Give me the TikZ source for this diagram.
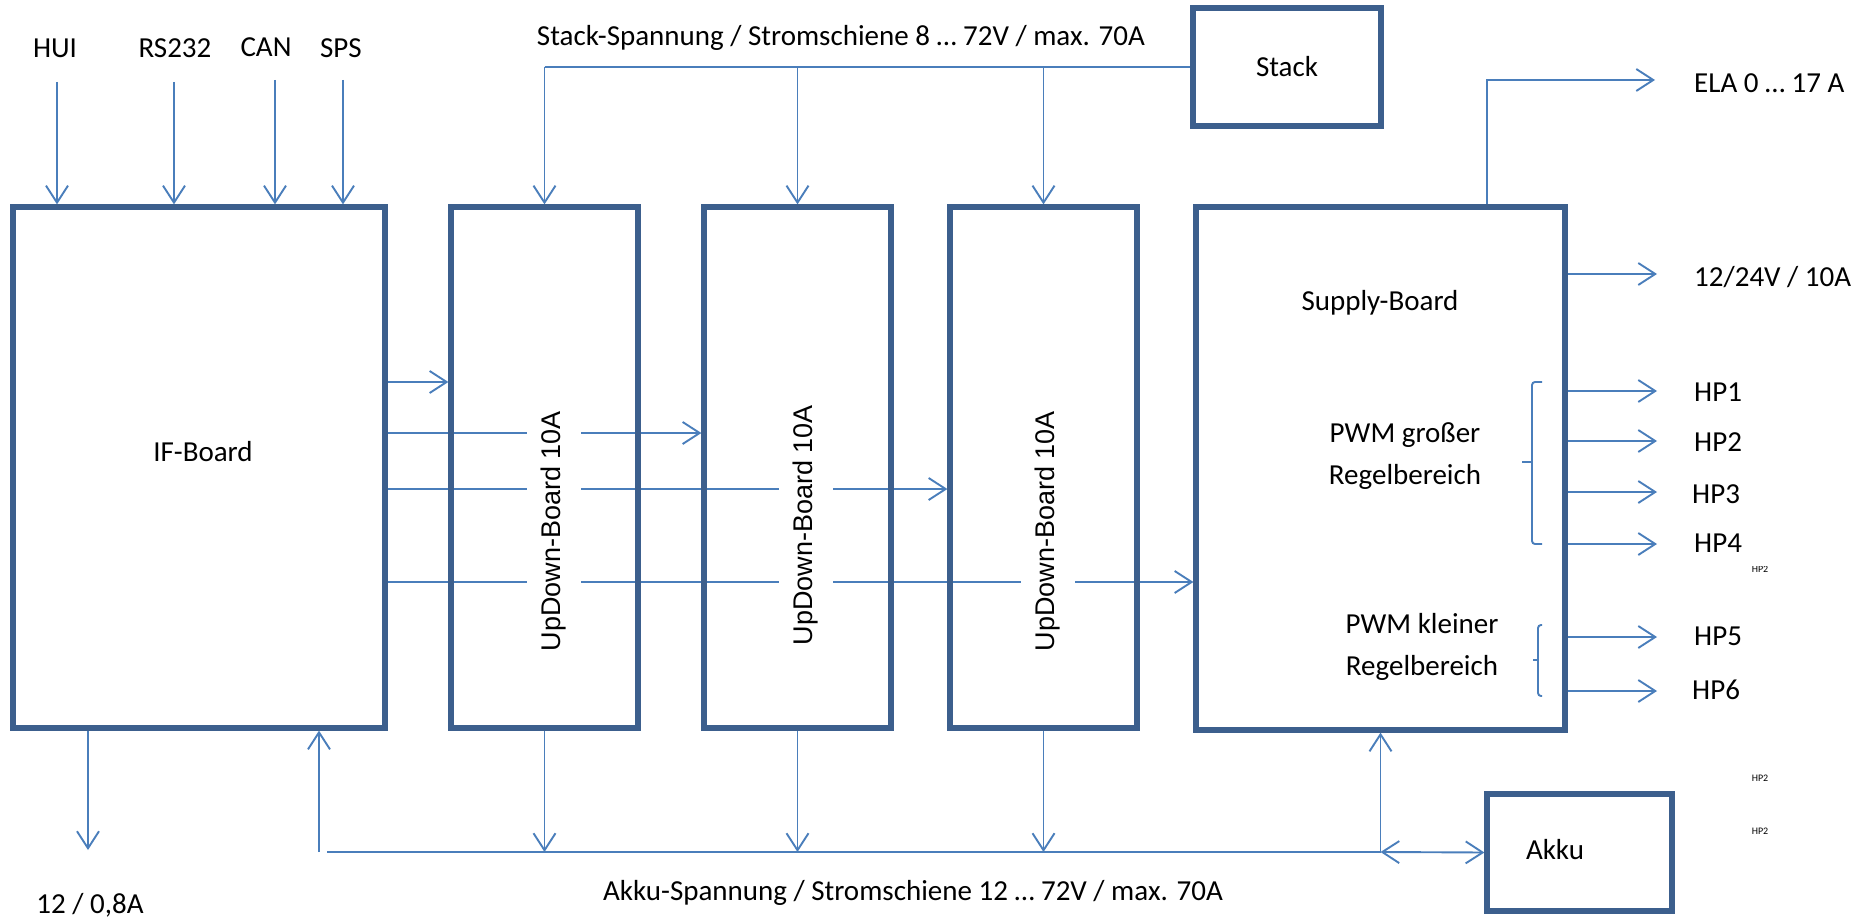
\documentclass[tikz,border=0pt]{standalone}
\usepackage{fontspec}
\setmainfont{Carlito}
\newfontfamily\udfont{Liberation Sans}
\usetikzlibrary{arrows.meta,backgrounds}
\definecolor{boxblue}{HTML}{3C5F8D}
\definecolor{lineblue}{HTML}{4A7EBB}
\tikzset{
  >={Straight Barb[length=17pt,width=22pt]},
  board/.style={draw=boxblue, line width=5.2pt, inner sep=0pt},
  conn/.style={draw=lineblue, line width=1.9pt, ->},
  wire/.style={draw=lineblue, line width=1.9pt},
  lbl/.style={font=\fontsize{29}{42}\selectfont, inner sep=0pt},
  udlbl/.style={font=\udfont\fontsize{27}{32}\selectfont, fill=white, rotate=90, inner xsep=2pt, inner ysep=14pt},
  tinylbl/.style={font=\fontsize{10}{12}\selectfont, inner sep=0pt},
  bracket/.style={draw=lineblue, line width=1.9pt, rounded corners=3pt},
}
\begin{document}
\begin{tikzpicture}[x=1pt,y=-1pt]
\useasboundingbox (0,0) rectangle (1874,917);

% boards
\node[board, minimum width=372pt, minimum height=521pt] (if)  at (199,467.5) {};
\node[board, minimum width=187pt, minimum height=521pt] (ud1) at (544.5,467.5) {};
\node[board, minimum width=187pt, minimum height=521pt] (ud2) at (797.5,467.5) {};
\node[board, minimum width=187pt, minimum height=521pt] (ud3) at (1043.5,467.5) {};
\node[board, minimum width=369pt, minimum height=523pt] (sup) at (1380.5,468.5) {};
\node[board, lbl, minimum width=188pt, minimum height=118pt] (stack) at (1287,67) {Stack};
\node[board, minimum width=185pt, minimum height=117pt] (akku) at (1579.5,852.5) {};

% texts inside the boards
\node[lbl] (iftxt) at (203,452) {IF-Board};
\node[lbl] (suptxt) at (1380,303) {Supply-Board};
\node[lbl, align=center] (pwmgr) at (1405,456) {PWM großer\\Regelbereich};
\node[lbl, align=center] (pwmkl) at (1422,647) {PWM kleiner\\Regelbereich};
\node[lbl] (akkutxt) at (1555,850) {Akku};

% interface inputs
\node[lbl] (hui)   at (55,48)  {HUI};
\node[lbl] (rs232) at (175,48) {RS232};
\node[lbl] (can)   at (266,47) {CAN};
\node[lbl] (sps)   at (341,48) {SPS};
\coordinate (huiin) at (57,82);
\coordinate (rsin)  at (174,82);
\coordinate (canin) at (275,80);
\coordinate (spsin) at (343,80);

% bus labels
\node[lbl] (stackbus) at (841,38) {Stack-Spannung / Stromschiene 8 … 72V / max. 70A};
\node[lbl] (akkubus) at (913,893) {Akku-Spannung / Stromschiene 12 … 72V / max. 70A};
\node[lbl] (ifpow) at (90,905) {12 / 0,8A};

% signal levels between the boards
\coordinate (r1) at (0,382);
\coordinate (r2) at (0,433);
\coordinate (r3) at (0,489);
\coordinate (r4) at (0,582);

% supply outputs
\coordinate (elaup) at (1487,80);
\coordinate (ela) at (1655,80);
\coordinate (o0) at (1657,274);
\coordinate (o1) at (1657,391);
\coordinate (o2) at (1657,441);
\coordinate (o3) at (1657,492);
\coordinate (o4) at (1657,544);
\coordinate (o5) at (1657,637);
\coordinate (o6) at (1657,691);
\node[lbl, anchor=west] (lela) at (1694,83)  {ELA 0 … 17 A};
\node[lbl, anchor=west] (l0)   at (1694,277) {12/24V / 10A};
\node[lbl, anchor=west] (l1)   at (1694,392) {HP1};
\node[lbl, anchor=west] (l2)   at (1694,442) {HP2};
\node[lbl, anchor=west] (l3)   at (1692,494) {HP3};
\node[lbl, anchor=west] (l4)   at (1694,543) {HP4};
\node[lbl, anchor=west] (l5)   at (1694,636) {HP5};
\node[lbl, anchor=west] (l6)   at (1692,690) {HP6};

% small stray labels
\begin{scope}
  \clip (1740,566) rectangle (1790,580);
  \node[tinylbl] (t0) at (1760,569) {HP2};
\end{scope}
\node[tinylbl] (t1) at (1760,778) {HP2};
\node[tinylbl] (t2) at (1760,831) {HP2};

% bottom bus
\coordinate (ifout) at (88,850);
\coordinate (ifin) at (319,852);
\coordinate (busl) at (327,852);

\begin{scope}[on background layer]
  % inputs of the IF board
  \draw[conn] (huiin) -- (huiin |- if.north);
  \draw[conn] (rsin)  -- (rsin |- if.north);
  \draw[conn] (canin) -- (canin |- if.north);
  \draw[conn] (spsin) -- (spsin |- if.north);
  % stack rail
  \draw[wire] (ud1.north |- stack.west) -- (stack.west);
  \draw[conn] (ud1.north |- stack.west) -- (ud1.north);
  \draw[conn] (ud2.north |- stack.west) -- (ud2.north);
  \draw[conn] (ud3.north |- stack.west) -- (ud3.north);
  % control lines
  \draw[conn] (if.east |- r1) -- (ud1.west |- r1);
  \draw[conn] (if.east |- r2) -- (ud2.west |- r2);
  \draw[conn] (if.east |- r3) -- (ud3.west |- r3);
  \draw[conn] (if.east |- r4) -- (sup.west |- r4);
  % supply outputs
  \draw[conn] (elaup |- sup.north) -- (elaup) -- (ela);
  \draw[conn] (sup.east |- o0) -- (o0);
  \draw[conn] (sup.east |- o1) -- (o1);
  \draw[conn] (sup.east |- o2) -- (o2);
  \draw[conn] (sup.east |- o3) -- (o3);
  \draw[conn] (sup.east |- o4) -- (o4);
  \draw[conn] (sup.east |- o5) -- (o5);
  \draw[conn] (sup.east |- o6) -- (o6);
  % akku rail
  \draw[conn] (ifout |- if.south) -- (ifout);
  \draw[conn] (ifin) -- (ifin |- if.south);
  \draw[wire] (busl) -- (busl -| sup.south);
  \draw[conn] (ud1.south) -- (ud1.south |- busl);
  \draw[conn] (ud2.south) -- (ud2.south |- busl);
  \draw[conn] (ud3.south) -- (ud3.south |- busl);
  \draw[conn] (busl -| sup.south) -- (sup.south);
  \draw[conn, <->] (busl -| sup.south) -- (akku.west);
\end{scope}

% brackets grouping the PWM outputs
\draw[bracket] (1542,382) -- (1532,382) -- (1532,544) -- (1542,544);
\draw[bracket] (1532,462) -- (1522,462);
\draw[bracket] (1542,625) -- (1538,625) -- (1538,696) -- (1542,696);
\draw[bracket] (1538,660) -- (1533,660);

% up/down converter labels
\node[udlbl] (ud1txt) at (554,531)  {UpDown-Board 10A};
\node[udlbl] (ud2txt) at (806,525)  {UpDown-Board 10A};
\node[udlbl] (ud3txt) at (1048,531) {UpDown-Board 10A};
\end{tikzpicture}
\end{document}
